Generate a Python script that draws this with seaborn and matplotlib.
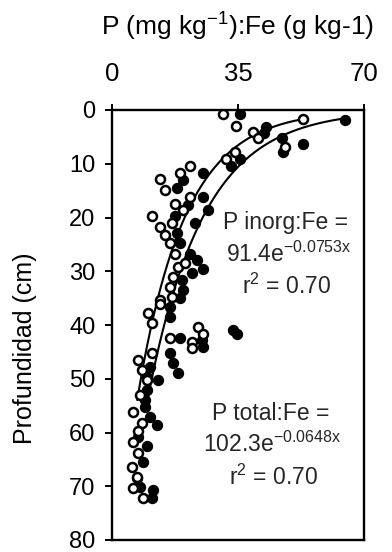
import numpy as np
import pandas as pd
import matplotlib
matplotlib.use("Agg")
import matplotlib.pyplot as plt
import seaborn as sns

# ---- data ----
inorg_ratio = [30.9, 34.4, 39.1, 40.6, 53.1, 48.0, 34.2, 31.7, 21.7, 18.9, 13.3, 14.7, 17.5, 21.7,
               19.8, 11.0, 13.3, 16.6, 14.7, 16.1, 17.5, 18.4, 20.3, 17.0, 16.1, 16.6, 13.3, 13.3,
               10.1, 11.0, 24.0, 25.4, 22.1, 22.1, 16.1, 11.0, 7.3, 8.2, 9.6, 7.8, 5.9, 8.2, 7.3,
               5.9, 7.3, 5.5, 6.9, 5.9, 8.7]
inorg_depth = [0.7, 3.0, 4.1, 5.3, 1.7, 6.8, 7.8, 9.2, 10.5, 11.8, 12.9, 14.9, 17.4, 16.1,
               18.6, 19.8, 21.7, 21.1, 23.3, 24.8, 26.7, 29.2, 28.5, 31.0, 32.9, 34.7, 35.3, 36.0,
               37.8, 39.7, 40.3, 41.6, 43.1, 44.3, 42.5, 45.3, 46.5, 48.4, 50.2, 53.0, 56.1, 58.3, 59.8,
               61.7, 63.9, 66.4, 68.2, 70.4, 72.2]

total_ratio = [35.6, 42.8, 42.2, 64.7, 47.1, 47.4, 53.1, 35.6, 33.0, 25.4, 19.8, 18.0, 25.4, 21.2,
               26.8, 17.5, 23.1, 18.0, 18.9, 21.7, 23.5, 25.4, 22.1, 19.4, 19.8, 18.9, 16.1, 16.1,
               33.7, 34.6, 18.9, 24.9, 25.4, 16.1, 17.0, 18.4, 10.6, 9.6, 12.9, 9.6, 9.2, 9.2, 10.6,
               12.4, 7.3, 9.6, 8.7, 6.9, 7.8, 11.5, 11.0]
total_depth = [0.7, 3.1, 4.3, 1.9, 5.3, 7.8, 6.3, 9.2, 10.5, 11.8, 13.0, 14.6, 16.1, 17.7,
               18.6, 19.8, 21.1, 22.9, 24.8, 26.7, 27.9, 29.5, 30.4, 31.6, 33.5, 35.0, 36.6, 38.5,
               40.9, 41.6, 42.5, 42.8, 44.0, 45.3, 47.1, 49.0, 47.8, 49.6, 50.2, 52.0, 54.0, 55.2, 57.1,
               58.6, 60.8, 62.6, 65.4, 68.5, 70.1, 70.7, 72.2]

# fitted models printed on the chart (depth = a * exp(-b * ratio))
inorg_a, inorg_b = 91.4, 0.0753
total_a, total_b = 102.3, 0.0648
inorg_fit_range = (7.0, 53.5)
total_fit_range = (9.5, 65.0)

x_ticks = [0, 35, 70]
y_ticks = [0, 10, 20, 30, 40, 50, 60, 70, 80]

sns.set_theme(style="white")
plt.rcParams['font.family'] = ['Liberation Sans', 'DejaVu Sans']
plt.rcParams['mathtext.fontset'] = 'custom'
plt.rcParams['mathtext.rm'] = 'Liberation Sans'
plt.rcParams['mathtext.it'] = 'Liberation Sans'

fig = plt.figure(figsize=(3.92, 5.52), dpi=100)
ax = fig.add_axes([112/392, 12/552, 252/392, 430/552])

rx = np.linspace(*inorg_fit_range, 200)
inorg_curve = pd.DataFrame({"ratio": rx, "depth": inorg_a * np.exp(-inorg_b * rx)})
tx = np.linspace(*total_fit_range, 200)
total_curve = pd.DataFrame({"ratio": tx, "depth": total_a * np.exp(-total_b * tx)})

sns.lineplot(data=inorg_curve, x="ratio", y="depth", sort=False, estimator=None,
             color="black", lw=1.5, ax=ax, zorder=2)
sns.lineplot(data=total_curve, x="ratio", y="depth", sort=False, estimator=None,
             color="black", lw=1.5, ax=ax, zorder=2)

df_t = pd.DataFrame({"ratio": total_ratio, "depth": total_depth})
df_i = pd.DataFrame({"ratio": inorg_ratio, "depth": inorg_depth})
sns.scatterplot(data=df_t, x="ratio", y="depth", marker="o", s=54, color="black",
                edgecolor="black", linewidth=0.8, ax=ax, zorder=3)
sns.scatterplot(data=df_i, x="ratio", y="depth", marker="o", s=42, color="white",
                edgecolor="black", linewidth=1.8, ax=ax, zorder=4)

ax.set_xlim(0, 70)
ax.set_ylim(80, 0)
ax.set_xticks(x_ticks)
ax.set_yticks(y_ticks)
ax.xaxis.tick_top()
ax.xaxis.set_label_position("top")
ax.tick_params(axis="x", which="both", direction="inout", length=9, width=1.4,
               labelsize=18.5, pad=13, colors="black", top=True, bottom=False)
ax.tick_params(axis="y", direction="out", length=5, width=1.4, labelsize=17, pad=7,
               colors="black", left=True, right=False)
for sp in ax.spines.values():
    sp.set_visible(True)
    sp.set_color("black")
    sp.set_linewidth(1.7)

ax.set_xlabel("P (mg kg$^{-1}$):Fe (g kg-1)", fontsize=19, labelpad=19, color="black")
ax.set_ylabel("")
fig.text(25/392, 1 - 348/552, "Profundidad (cm)", rotation=90, fontsize=18,
         ha="center", va="center", color="black")

fs = 16.5
ax.text(48.3, 21.0, "P inorg:Fe =", fontsize=fs, ha="center", va="center")
ax.text(49.0, 26.8, "91.4e$^{-0.0753x}$", fontsize=fs, ha="center", va="center")
ax.text(48.6, 32.8, "r$^{2}$ = 0.70", fontsize=fs, ha="center", va="center")
ax.text(44.2, 56.4, "P total:Fe =", fontsize=fs, ha="center", va="center")
ax.text(44.5, 62.2, "102.3e$^{-0.0648x}$", fontsize=fs, ha="center", va="center")
ax.text(44.8, 68.3, "r$^{2}$ = 0.70", fontsize=fs, ha="center", va="center")

fig.savefig("out.png", dpi=100)
